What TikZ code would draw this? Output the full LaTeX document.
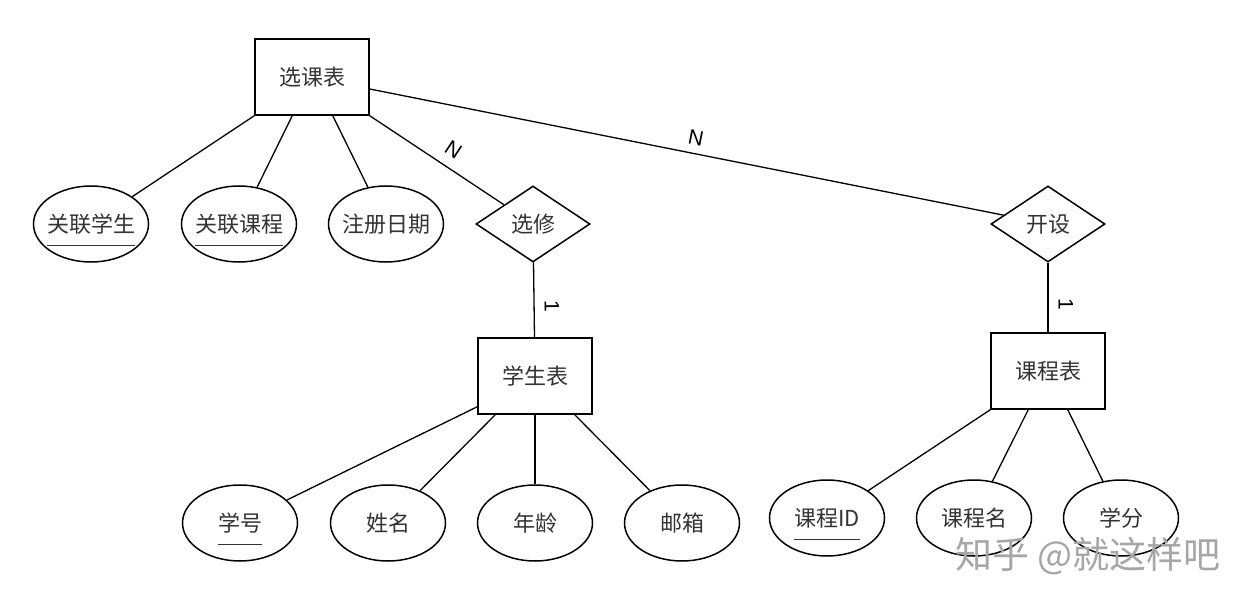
\documentclass[tikz,border=0pt]{standalone}
\usepackage{fontspec}
\setmainfont{Noto Sans CJK SC}
\newfontfamily\cardfont{Liberation Sans}
\usetikzlibrary{shapes.geometric}

% underlined key attribute
\newcommand{\keyul}[1]{\setbox0\hbox{#1}\rlap{\smash{\rule[-14pt]{\wd0}{1.2pt}}}\box0}

\tikzset{
  entity/.style={draw, rectangle, line width=1.5pt, minimum width=114pt, minimum height=76pt, inner sep=0pt, font=\fontsize{22}{26}\selectfont, text=black!80},
  attr/.style={draw, ellipse, line width=1.5pt, minimum width=115pt, minimum height=76pt, inner sep=0pt, inner xsep=-14pt, font=\fontsize{22}{26}\selectfont, text=black!80},
  rel/.style={draw, diamond, aspect=1.5, line width=1.5pt, minimum width=114pt, minimum height=76pt, inner sep=0pt, font=\fontsize{22}{26}\selectfont, text=black!80},
  card/.style={sloped, inner sep=2pt, font=\cardfont\fontsize{21}{24}\selectfont},
  wmtext/.style={text=black!35, font=\fontsize{37}{42}\selectfont},
}

\begin{document}
\begin{tikzpicture}[x=1pt, y=-1pt, line width=1.3pt]
  \useasboundingbox[fill=white] (0,0) rectangle (1251,607);
  %draw entities
  \node[entity] (xkb) at (312,77) {选课表};
  \node[entity] (xsb) at (535,376) {学生表};
  \node[entity] (kcb) at (1048,371) {课程表};
  %draw relations
  \node[rel] (xx) at (533,224) {选修};
  \node[rel] (ks) at (1048,224) {开设};
  %draw attributes
  \foreach \nm/\x/\txt in {glxs/91/\keyul{关联学生}, glkc/239/\keyul{关联课程}, zcrq/386/注册日期}{
    \node[attr] (\nm) at (\x,224) {\txt};
  }
  \foreach \nm/\x/\txt in {xh/240/\keyul{学号}, xm/388/姓名, nl/535/年龄, yx/682/邮箱}{
    \node[attr] (\nm) at (\x,523) {\txt};
  }
  \foreach \nm/\x/\txt in {kid/827/\keyul{课程ID}, kmc/974/课程名, xf/1121/学分}{
    \node[attr] (\nm) at (\x,518) {\txt};
  }
  %draw connectors
  \draw (xkb.south west) -- (glxs);
  \draw ([xshift=38pt]xkb.south west) -- (glkc);
  \draw ([xshift=-37pt]xkb.south east) -- (zcrq);
  \draw (xkb.south east) -- node[card, above=8pt, pos=.55] (cxx) {N} (xx);
  \draw ([yshift=-12pt]xkb.east) -- node[card, above=6pt, pos=.51] (cks) {N} (ks);
  \draw (xx) -- node[card, above=8pt, pos=.59] (cxs) {1} (xsb);
  \draw (ks) -- node[card, above=8pt, pos=.6] (ckc) {1} (kcb);
  \draw ([yshift=8pt]xsb.south west) -- (xh);
  \draw ([xshift=18pt]xsb.south west) -- (xm);
  \draw (xsb.south) -- (nl);
  \draw ([xshift=-18pt]xsb.south east) -- (yx);
  \draw (kcb.south west) -- (kid);
  \draw ([xshift=38pt]kcb.south west) -- (kmc);
  \draw ([xshift=-38pt]kcb.south east) -- (xf);
  %draw watermark
  \node[wmtext] (wm) at (1088,556) {知乎 @就这样吧};
\end{tikzpicture}
\end{document}
